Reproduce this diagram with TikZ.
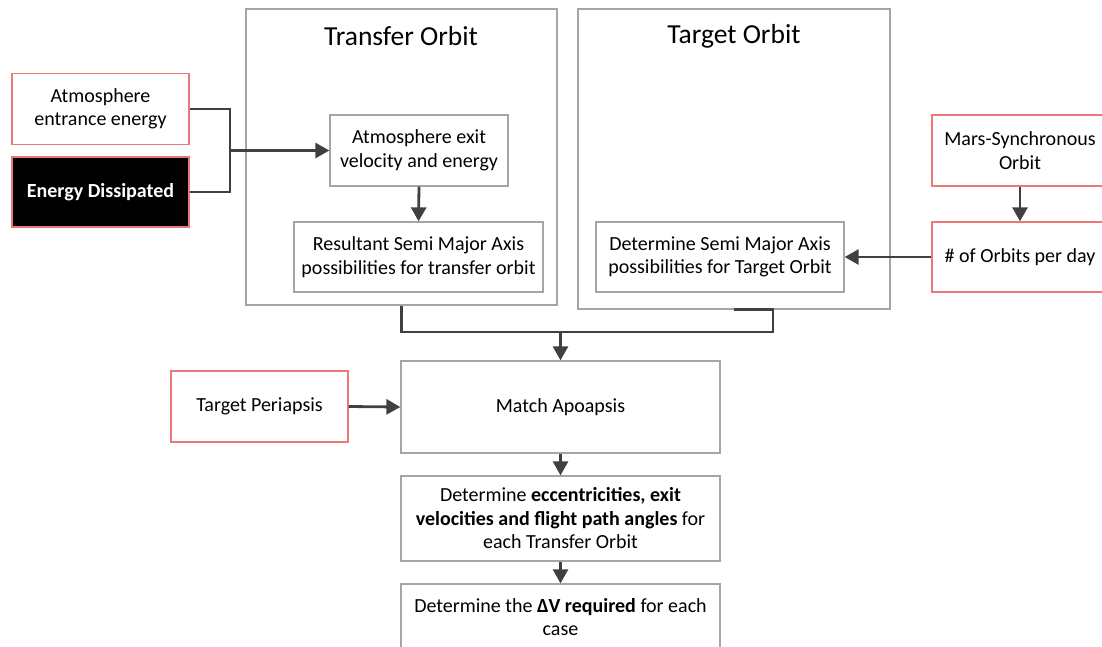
\documentclass[tikz,border=0pt]{standalone}
\usepackage{fontspec}
\setmainfont{Carlito}
\usetikzlibrary{arrows.meta}
\definecolor{boxgray}{RGB}{165,165,165}
\definecolor{boxred}{RGB}{236,120,120}
\definecolor{linegray}{RGB}{64,64,64}
\begin{document}
\begin{tikzpicture}[x=1pt, y=-1pt,
		every node/.style={font=\fontsize{20}{23.5}\selectfont, align=center, inner sep=0pt},
		box/.style={draw=boxgray, line width=1.3pt, rectangle},
		redbox/.style={draw=boxred, line width=1.3pt, rectangle},
		frame/.style={draw=boxgray, line width=1.3pt, rectangle},
		conn/.style={draw=linegray, line width=2.8pt},
		arr/.style={conn, -{Triangle[length=14pt,width=15pt]}}]
		\useasboundingbox (0,0) rectangle (1102,646);
		
		% orbit frames
		\node[frame, minimum width=311pt, minimum height=296pt] (transfer) at (401.5,157) {};
		\node[frame, minimum width=312pt, minimum height=300pt] (target) at (734,159) {};
		\node[font=\fontsize{27.5}{32}\selectfont] (ttransfer) at (401,36) {Transfer Orbit};
		\node[font=\fontsize{27.5}{32}\selectfont] (ttarget) at (734,36) {Target Orbit};
		
		% inputs
		\node[redbox, minimum width=177pt, minimum height=71pt] (entr) at (100.5,109) {Atmosphere\\entrance energy};
		\node[redbox, fill=black, text=white, font=\fontsize{20}{23.5}\selectfont\bfseries, minimum width=177pt, minimum height=70pt] (diss) at (100.5,192) {Energy Dissipated};
		\node[redbox, minimum width=176pt, minimum height=71pt] (mars) at (1020,150.5) {Mars-Synchronous\\Orbit};
		\node[redbox, minimum width=176pt, minimum height=70pt] (norb) at (1020,257) {\# of Orbits per day};
		\node[redbox, minimum width=177pt, minimum height=71pt] (tper) at (259.5,406.5) {Target Periapsis};
		
		% inside the frames
		\node[box, minimum width=178pt, minimum height=71pt] (exitv) at (419,150.5) {Atmosphere exit\\velocity and energy};
		\node[box, minimum width=249pt, minimum height=70pt] (resa) at (418.5,257) {Resultant Semi Major Axis\\possibilities for transfer orbit};
		\node[box, minimum width=248pt, minimum height=70pt] (detsma) at (720,257) {Determine Semi Major Axis\\possibilities for Target Orbit};
		
		% main column
		\node[box, minimum width=319pt, minimum height=92pt] (match) at (560.5,407) {Match Apoapsis};
		\node[box, minimum width=319pt, minimum height=85pt] (ecc) at (560.5,518.5) {Determine \textbf{eccentricities, exit}\\\textbf{velocities and flight path angles} for\\each Transfer Orbit};
		\node[box, minimum width=319pt, minimum height=66pt] (dv) at (560.5,617) {Determine the \textbf{ΔV required} for each\\case};
		
		\coordinate (jl) at (230,150.5);
		\coordinate (mrg) at (560.5,332);
		
		\draw[conn] (entr.east) -| (jl) |- (diss.east);
		\draw[arr] (jl) -- (exitv.west);
		\draw[arr] (exitv.south) -- (resa.north);
		\draw[arr] (mars.south) -- (norb.north);
		\draw[arr] (norb.west) -- (detsma.east);
		\draw[conn] (transfer.south) |- (mrg);
		\draw[conn] (target.south) -- ++(39,0) |- (mrg);
		\draw[arr] (mrg) -- (match.north);
		\draw[arr] (tper.east) -- (match.west);
		\foreach \from/\to in {match/ecc,ecc/dv}
		\draw[arr] (\from.south) -- (\to.north);
	\end{tikzpicture}
\end{document}
